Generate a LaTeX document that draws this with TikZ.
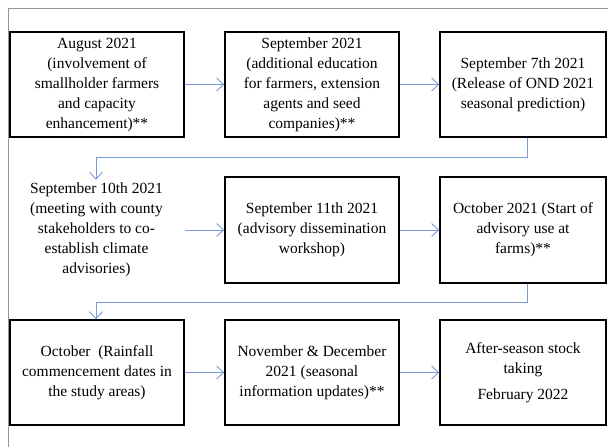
\documentclass[tikz,border=0pt]{standalone}
\usepackage{fontspec}
\setmainfont{Liberation Serif}
\usetikzlibrary{arrows.meta}
\definecolor{arrowblue}{RGB}{120,155,215}
\definecolor{framegray}{RGB}{150,150,150}
\begin{document}
\begin{tikzpicture}[x=1pt,y=-1pt,
  txt/.style={align=center, font=\fontsize{15.5}{20}\selectfont, inner sep=0pt},
  box/.style={txt, draw, line width=1.5pt, minimum width=174pt, minimum height=105pt},
  conn/.style={draw=arrowblue, line width=0.9pt, -{Straight Barb[length=7pt,width=13pt,line width=0.9pt]}}]
\path[use as bounding box] (0,0) rectangle (608,447);
\draw[framegray, line width=1pt] (8.5,447) -- (8.5,8.5) -- (608,8.5);

% row 1
\node[box] (b1) at (97,84.5) {August 2021\\(involvement of\\smallholder farmers\\and capacity\\enhancement)**};
\node[box] (b2) at (312,84.5) {September 2021\\(additional education\\for farmers, extension\\agents and seed\\companies)**};
\node[box, minimum width=166pt] (b3) at (523,84.5) {September 7th 2021\\(Release of OND 2021\\seasonal prediction)};

% row 2
\node[txt, inner ysep=3pt] (n4) at (96.5,230) {September 10th 2021\\(meeting with county\\stakeholders to co-\\establish climate\\advisories)};
\node[box, minimum height=106pt] (b5) at (312,230) {September 11th 2021\\(advisory dissemination\\workshop)};
\node[box, minimum width=166pt, minimum height=106pt] (b6) at (523,230) {October 2021 (Start of\\advisory use at\\farms)**};

% row 3
\node[box] (b7) at (97,372.5) {October\ \ (Rainfall\\commencement dates in\\the study areas)};
\node[box] (b8) at (312,372.5) {November \& December\\2021 (seasonal\\information updates)**};
\node[box, minimum width=166pt] (b9) at (523,372.5) {After-season stock\\taking\\[6pt]February 2022};

\coordinate (k1) at (96,157);
\coordinate (k2) at (96,302);

\draw[conn] (b1.east) -- (b2.west);
\draw[conn] (b2.east) -- (b3.west);
\draw[conn] ([xshift=4pt]b3.south) |- (k1) -- (k1 |- n4.north);
\draw[conn] (n4.east -| b1.east) -- (b5.west);
\draw[conn] (b5.east) -- (b6.west);
\draw[conn] ([xshift=4pt]b6.south) |- (k2) -- (k2 |- b7.north);
\draw[conn] (b7.east) -- (b8.west);
\draw[conn] (b8.east) -- (b9.west);
\end{tikzpicture}
\end{document}
